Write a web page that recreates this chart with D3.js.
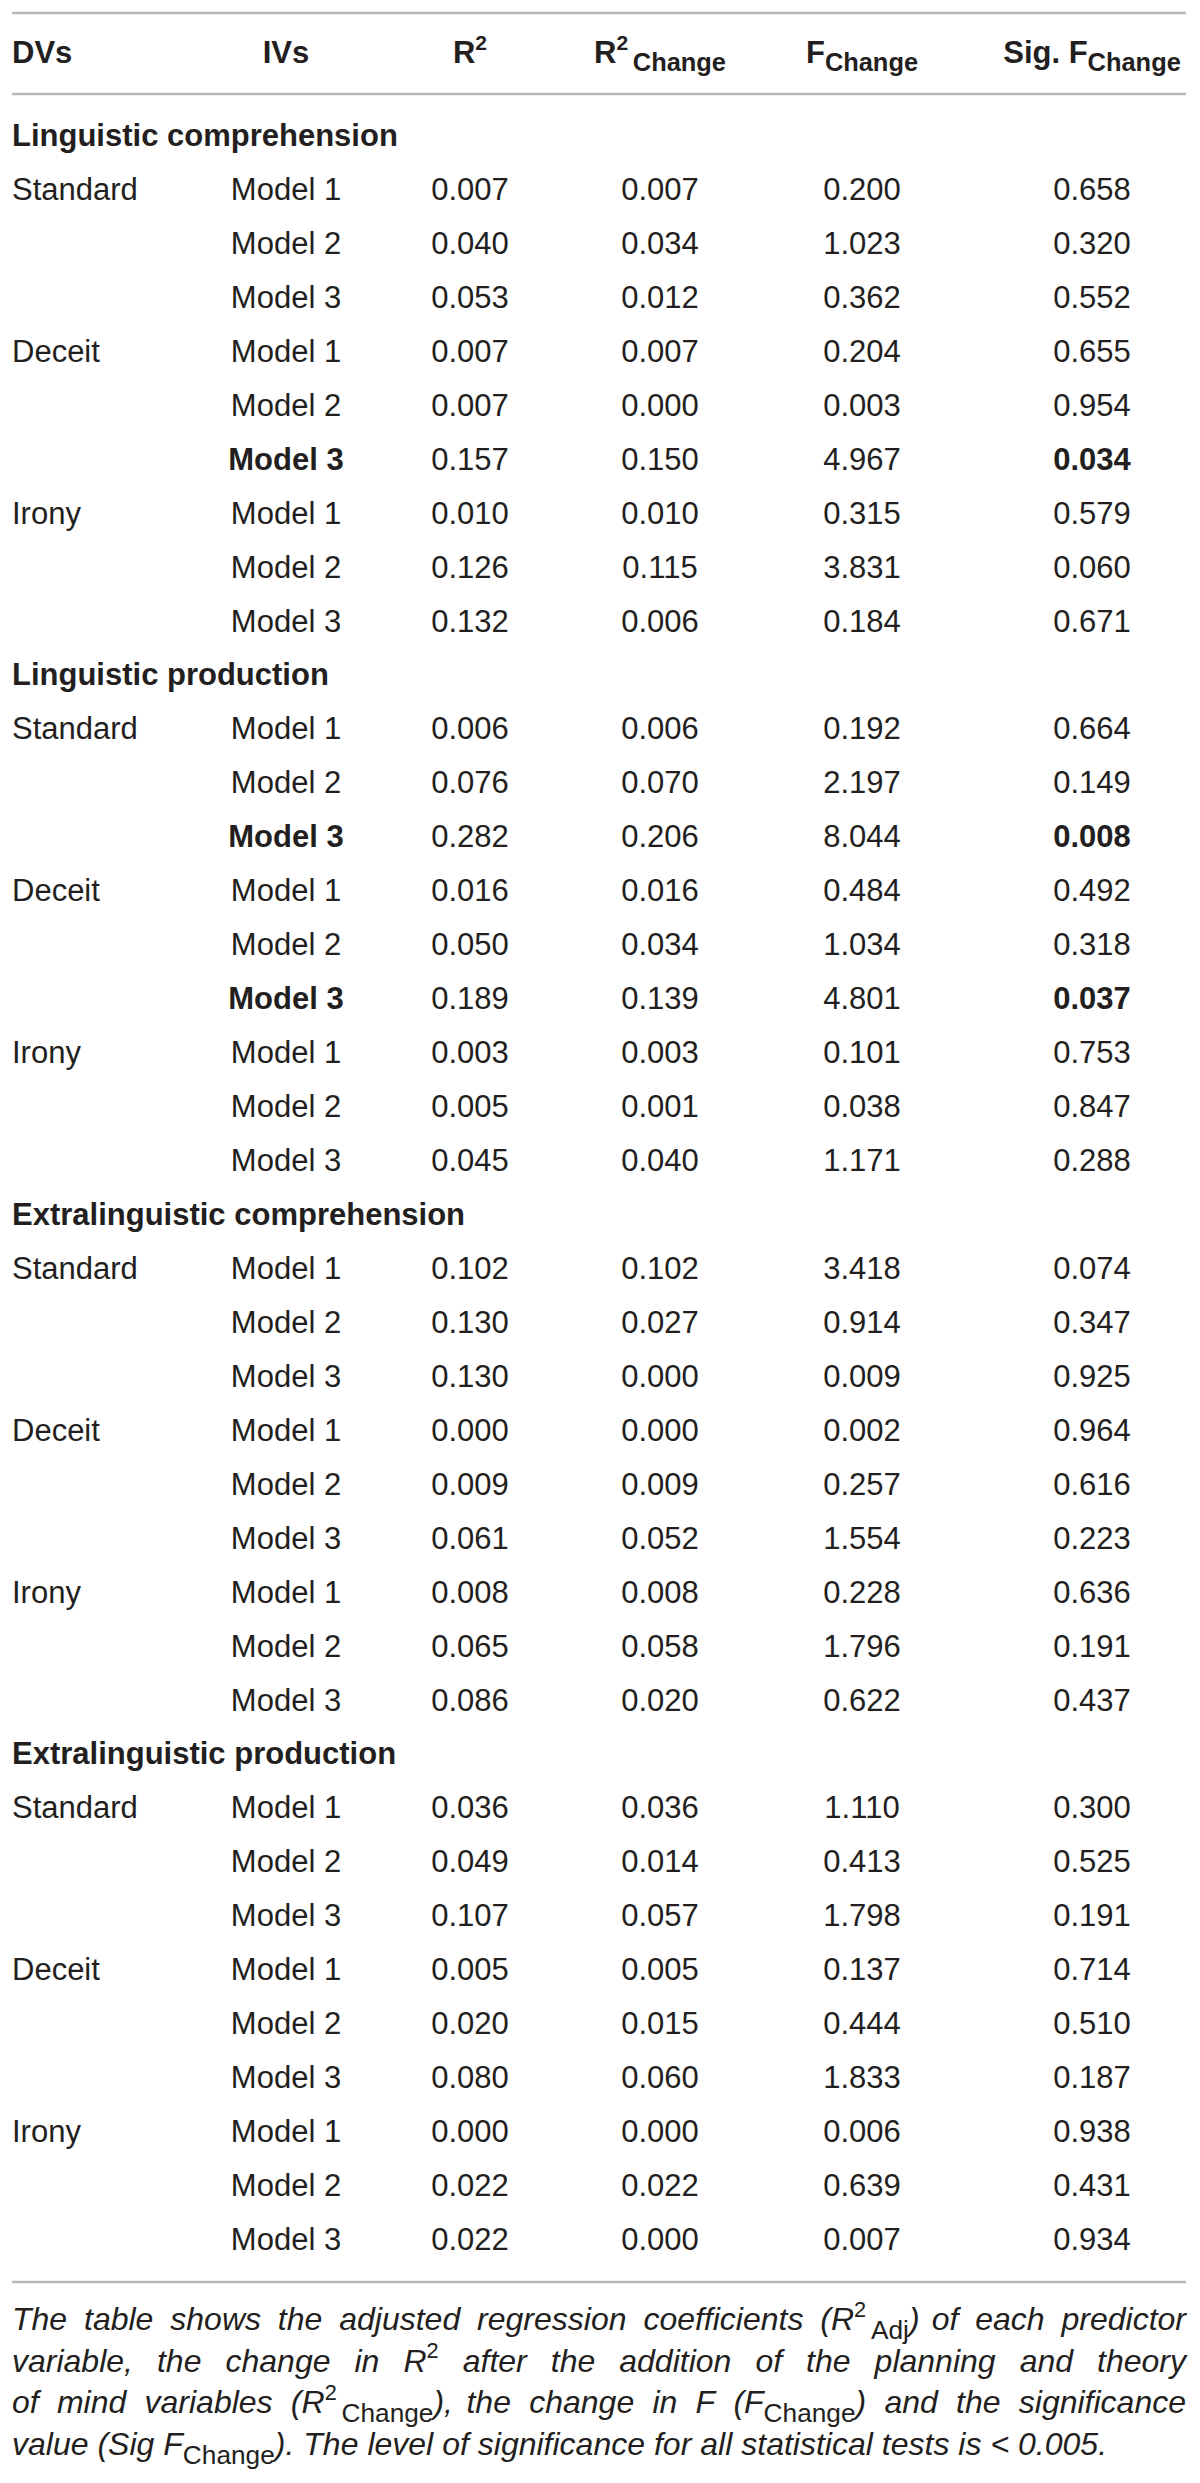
<!DOCTYPE html>
<html>
<head>
<meta charset="utf-8">
<script src="https://cdn.jsdelivr.net/npm/d3@7"></script>
<style>
  body { margin: 0; background: #fff; }
  svg { display: block; }
  text { font-family: "Liberation Sans", Arial, Helvetica, sans-serif; fill: #231f20; }
</style>
</head>
<body>
<svg id="chart" width="1200" height="2483"></svg>
<script>
// table content
const sections = ["Linguistic comprehension", "Linguistic production", "Extralinguistic comprehension", "Extralinguistic production"];
const dvs = ["Standard", "Deceit", "Irony"];
const models = ["Model 1", "Model 2", "Model 3"];

// one value per row, 4 sections x 3 DVs x 3 models
const r2 = [
  0.007, 0.040, 0.053, 0.007, 0.007, 0.157, 0.010, 0.126, 0.132,
  0.006, 0.076, 0.282, 0.016, 0.050, 0.189, 0.003, 0.005, 0.045,
  0.102, 0.130, 0.130, 0.000, 0.009, 0.061, 0.008, 0.065, 0.086,
  0.036, 0.049, 0.107, 0.005, 0.020, 0.080, 0.000, 0.022, 0.022
];
const r2Change = [
  0.007, 0.034, 0.012, 0.007, 0.000, 0.150, 0.010, 0.115, 0.006,
  0.006, 0.070, 0.206, 0.016, 0.034, 0.139, 0.003, 0.001, 0.040,
  0.102, 0.027, 0.000, 0.000, 0.009, 0.052, 0.008, 0.058, 0.020,
  0.036, 0.014, 0.057, 0.005, 0.015, 0.060, 0.000, 0.022, 0.000
];
const fChange = [
  0.200, 1.023, 0.362, 0.204, 0.003, 4.967, 0.315, 3.831, 0.184,
  0.192, 2.197, 8.044, 0.484, 1.034, 4.801, 0.101, 0.038, 1.171,
  3.418, 0.914, 0.009, 0.002, 0.257, 1.554, 0.228, 1.796, 0.622,
  1.110, 0.413, 1.798, 0.137, 0.444, 1.833, 0.006, 0.639, 0.007
];
const sigF = [
  0.658, 0.320, 0.552, 0.655, 0.954, 0.034, 0.579, 0.060, 0.671,
  0.664, 0.149, 0.008, 0.492, 0.318, 0.037, 0.753, 0.847, 0.288,
  0.074, 0.347, 0.925, 0.964, 0.616, 0.223, 0.636, 0.191, 0.437,
  0.300, 0.525, 0.191, 0.714, 0.510, 0.187, 0.938, 0.431, 0.934
];
// rows printed in bold (significant models)
const boldRows = [5, 11, 14];

const svg = d3.select("#chart");
const fmt = d3.format(".3f");
const fs = 31;          // table font size
const capFs = 32;       // caption font size
const left = 12, right = 1186;

// build flat row list: section headers + data rows
const rows = [];
sections.forEach((s, si) => {
  rows.push({ type: "section", label: s });
  dvs.forEach((dv, di) => {
    models.forEach((m, mi) => {
      const i = si * 9 + di * 3 + mi;
      rows.push({
        type: "data", i,
        dv: mi === 0 ? dv : "",
        model: m,
        vals: [r2[i], r2Change[i], fChange[i], sigF[i]],
        bold: boldRows.includes(i)
      });
    });
  });
});

const y = d3.scaleLinear().domain([0, rows.length - 1]).range([146, 2250]);
const cols = ["DVs", "IVs", "R2", "R2Change", "FChange", "SigFChange"];
const x = d3.scaleOrdinal().domain(cols).range([left, 286, 470, 660, 862, 1092]);

// rules
svg.selectAll(".rule")
  .data([13, 94, 2282])
  .enter().append("line")
  .attr("class", "rule")
  .attr("x1", left).attr("x2", right)
  .attr("y1", d => d).attr("y2", d => d)
  .attr("stroke", "#b8b8b8")
  .attr("stroke-width", 2.5);

// header
const headerY = 63;
const header = [
  { col: "DVs", runs: [["DVs", ""]], anchor: "start" },
  { col: "IVs", runs: [["IVs", ""]] },
  { col: "R2", runs: [["R", ""], ["2", "sup"]] },
  { col: "R2Change", runs: [["R", ""], ["2", "sup"], ["Change", "sub"]] },
  { col: "FChange", runs: [["F", ""], ["Change", "sub"]] },
  { col: "SigFChange", runs: [["Sig. F", ""], ["Change", "sub"]] }
];

// writes runs into a text element, handling super/subscripts with dy
function writeRuns(sel, runs, size, opts) {
  let shift = 0, prev = "";
  runs.forEach(([t, kind]) => {
    let target = 0, rsize = size;
    if (kind === "sup") { target = -0.42 * size; rsize = 0.68 * size; }
    if (kind === "sub") { target = 0.27 * size; rsize = 0.82 * size; }
    const ts = sel.append("tspan")
      .attr("dy", target - shift)
      .style("font-size", rsize + "px")
      .text(t);
    if (kind === "sub" && prev === "sup") ts.attr("dx", 0.15 * size);
    if (opts && opts.italic && kind === "") ts.style("font-style", "italic");
    shift = target;
    prev = kind;
  });
}

header.forEach(h => {
  const t = svg.append("text")
    .attr("x", x(h.col))
    .attr("y", headerY)
    .attr("text-anchor", h.anchor || "middle")
    .style("font-weight", "bold")
    .style("font-size", fs + "px");
  writeRuns(t, h.runs, fs);
});

// body rows
const g = svg.selectAll(".row")
  .data(rows)
  .enter().append("g")
  .attr("class", "row")
  .attr("transform", (d, k) => `translate(0,${y(k)})`);

g.filter(d => d.type === "section").append("text")
  .attr("x", x("DVs"))
  .style("font-size", fs + "px")
  .style("font-weight", "bold")
  .text(d => d.label);

const dataRows = g.filter(d => d.type === "data");
dataRows.append("text")
  .attr("x", x("DVs"))
  .style("font-size", fs + "px")
  .text(d => d.dv);
dataRows.append("text")
  .attr("x", x("IVs"))
  .attr("text-anchor", "middle")
  .style("font-size", fs + "px")
  .style("font-weight", d => d.bold ? "bold" : "normal")
  .text(d => d.model);

const valCols = ["R2", "R2Change", "FChange", "SigFChange"];
dataRows.selectAll(".val")
  .data(d => d.vals.map((v, j) => ({ v, col: valCols[j], bold: d.bold && j === 3 })))
  .enter().append("text")
  .attr("class", "val")
  .attr("x", d => x(d.col))
  .attr("text-anchor", "middle")
  .style("font-size", fs + "px")
  .style("font-weight", d => d.bold ? "bold" : "normal")
  .text(d => fmt(d.v));

// caption, justified italic text with upright sub/superscripts
const captionLines = [
  [[["The",""]],[["table",""]],[["shows",""]],[["the",""]],[["adjusted",""]],[["regression",""]],[["coefficients",""]],
   [["(R",""],["2","sup"],["Adj","sub"],[")",""]],[["of",""]],[["each",""]],[["predictor",""]]],
  [[["variable,",""]],[["the",""]],[["change",""]],[["in",""]],[["R",""],["2","sup"]],[["after",""]],[["the",""]],
   [["addition",""]],[["of",""]],[["the",""]],[["planning",""]],[["and",""]],[["theory",""]]],
  [[["of",""]],[["mind",""]],[["variables",""]],[["(R",""],["2","sup"],["Change","sub"],["),",""]],[["the",""]],
   [["change",""]],[["in",""]],[["F",""]],[["(F",""],["Change","sub"],[")",""]],[["and",""]],[["the",""]],[["significance",""]]],
  [[["value",""]],[["(Sig",""]],[["F",""],["Change","sub"],[").",""]],[["The",""]],[["level",""]],[["of",""]],
   [["significance",""]],[["for",""]],[["all",""]],[["statistical",""]],[["tests",""]],[["is",""]],[["<",""]],[["0.005.",""]]]
];
const capY0 = 2330, capLH = 41.7;

captionLines.forEach((words, li) => {
  const texts = words.map(runs => {
    const t = svg.append("text")
      .attr("y", capY0 + li * capLH)
      .style("font-size", capFs + "px");
    writeRuns(t, runs, capFs, { italic: true });
    return t;
  });
  const widths = texts.map(t => t.node().getComputedTextLength());
  const total = d3.sum(widths);
  const last = li === captionLines.length - 1;
  const gap = last ? capFs * 0.28 : (right - left - total) / (words.length - 1);
  let cx = left;
  texts.forEach((t, k) => {
    t.attr("x", cx);
    cx += widths[k] + gap;
  });
});
</script>
</body>
</html>
